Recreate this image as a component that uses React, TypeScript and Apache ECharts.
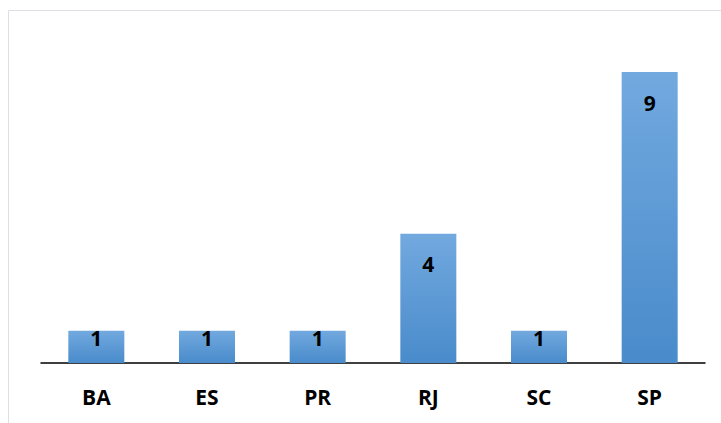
import React, { useEffect, useRef } from "react";
import * as echarts from "echarts";

const categories = ["BA", "ES", "PR", "RJ", "SC", "SP"];
const values = [1, 1, 1, 4, 1, 9];

export default function App() {
  const ref = useRef<HTMLDivElement>(null);
  useEffect(() => {
    if (!ref.current) return;
    const chart = echarts.init(ref.current, undefined, { renderer: "svg" });
    const font = "'Open Sans', Lato, sans-serif";
    chart.setOption({
      animation: false,
      graphic: [
        {
          type: "rect",
          shape: { x: 8.5, y: 10.5, width: 730, height: 430 },
          style: { fill: "none", stroke: "#DCE0E6", lineWidth: 1 },
          silent: true,
        },
      ],
      grid: { left: 41, right: 16, top: 72, bottom: 60 },
      xAxis: {
        type: "category",
        data: categories,
        axisLine: { lineStyle: { color: "#000", width: 1.5 } },
        axisTick: { show: false },
        axisLabel: {
          color: "#000",
          fontSize: 21,
          fontWeight: "bold",
          fontFamily: font,
          margin: 23,
        },
      },
      yAxis: {
        type: "value",
        min: 0,
        max: 9,
        show: false,
        splitLine: { show: false },
      },
      series: [
        {
          type: "bar",
          barWidth: 56,
          data: values.map((v) => ({
            value: v,
            label: { distance: v <= 1 ? -3 : 20 },
          })),
          itemStyle: {
            color: new echarts.graphic.LinearGradient(0, 0, 0, 1, [
              { offset: 0, color: "#72A9DF" },
              { offset: 1, color: "#498BCB" },
            ]),
          },
          label: {
            show: true,
            position: "insideTop",
            color: "#000",
            fontSize: 21,
            fontWeight: "bold",
            fontFamily: font,
          },
        },
      ],
    });
    return () => chart.dispose();
  }, []);
  return (
    <div
      ref={ref}
      style={{ position: "fixed", left: 0, top: 0, width: 721, height: 423, background: "#fff" }}
    />
  );
}
